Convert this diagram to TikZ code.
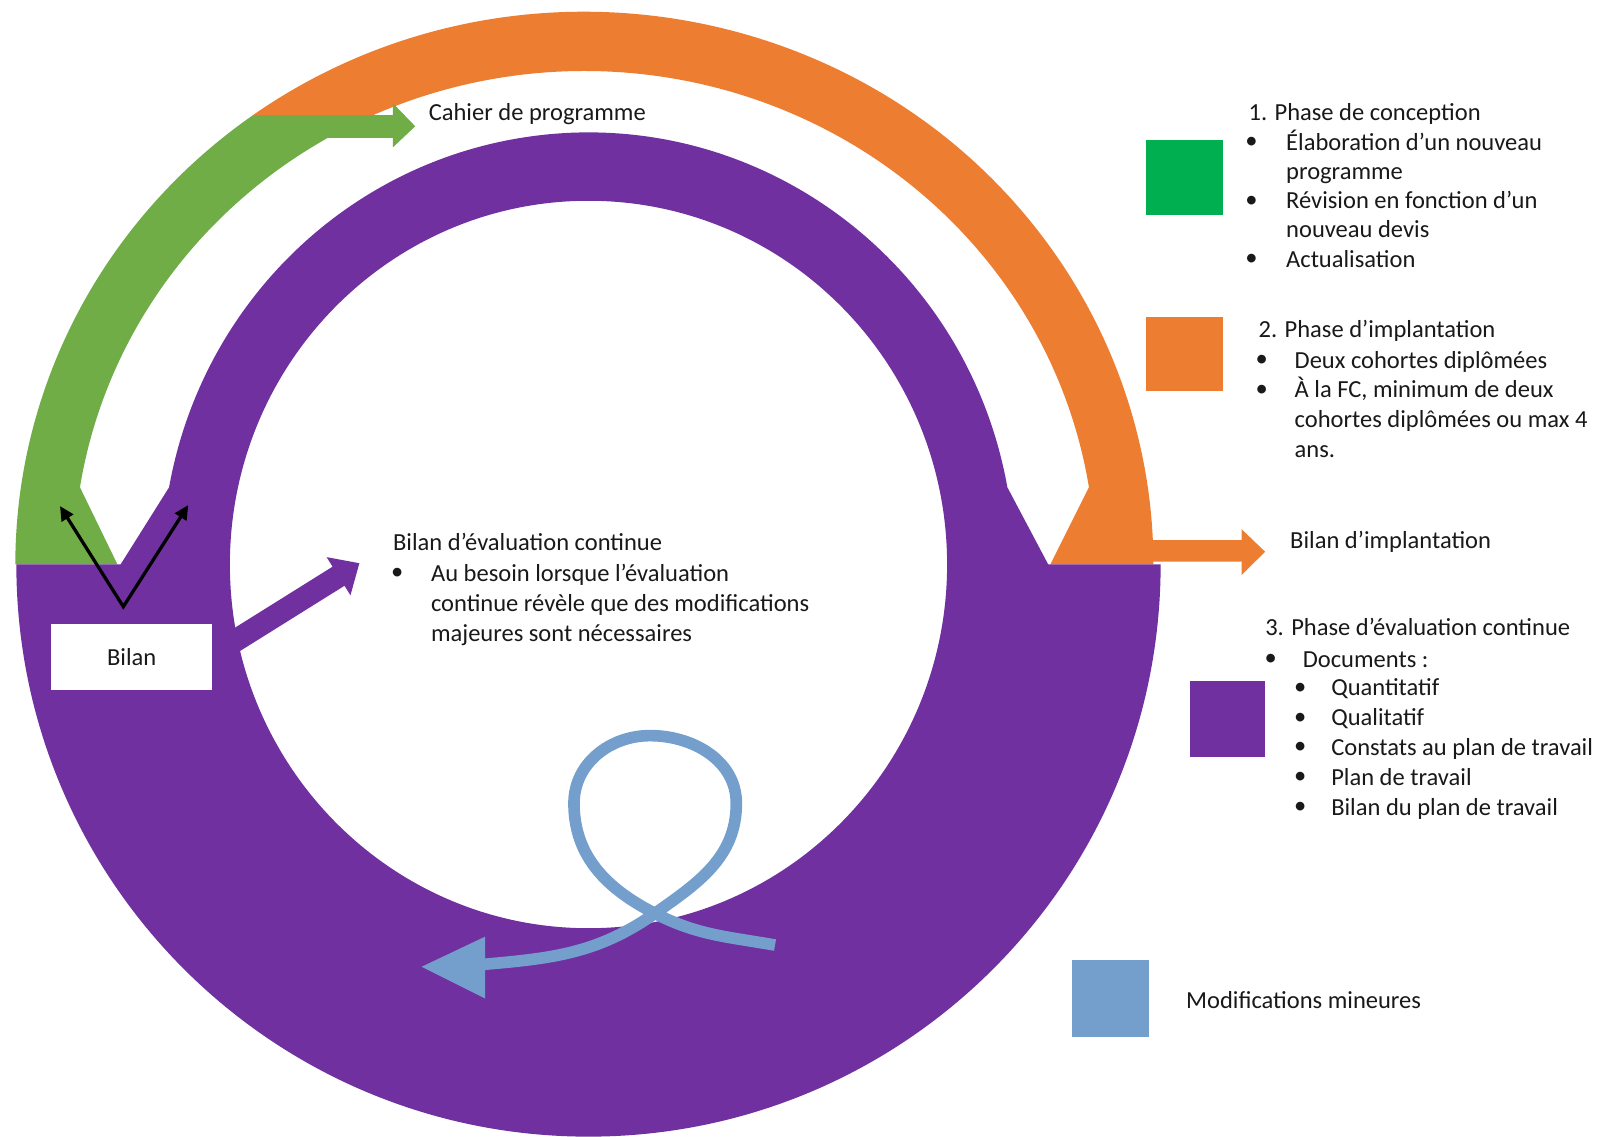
\documentclass[tikz,border=0pt]{standalone}
\usepackage{fontspec}
\setmainfont{Carlito}
\usetikzlibrary{arrows.meta}
\definecolor{cpurple}{RGB}{112,48,160}
\definecolor{corange}{RGB}{237,125,49}
\definecolor{cgreen}{RGB}{112,173,71}
\definecolor{lgreen}{RGB}{0,176,80}
\definecolor{cblue}{RGB}{116,159,204}
\definecolor{ctext}{RGB}{25,25,25}
\begin{document}
\begin{tikzpicture}[x=1pt,y=1pt,
  txt/.style={font=\fontsize{24}{29}\selectfont, text=ctext, inner sep=0pt, anchor=base west},
  bul/.style={font=\fontsize{24}{29}\selectfont, text=ctext, inner sep=0pt, anchor=center},
  legsq/.style={draw=none},
  loopline/.style={draw=cblue, line width=11.4pt},
  blackarrow/.style={draw=black, line width=3.2pt, line join=miter,
     {Triangle[length=14pt,width=13pt]}-{Triangle[length=14pt,width=13pt]}}]
\useasboundingbox (0,0) rectangle (1568,-1112);
\fill[white] (0,0) rectangle (1568,-1112);

% orange upper band
\fill[corange] (247.7,-112.6) arc[start angle=125.6, end angle=0, x radius=557, y radius=541]
  -- (1028,-552.5) -- (1065.8,-476.9)
  arc[start angle=9, end angle=114.4, x radius=500, y radius=483] -- cycle;

% green upper band with arrow
\fill[cgreen] (15,-552.5) arc[start angle=180, end angle=125.6, x radius=557, y radius=541]
  -- (384.6,-112.6) -- (384.6,-101.1) -- (406.4,-123.6) -- (384.6,-144.2) -- (384.6,-134.9)
  -- (320.9,-134.9) arc[start angle=120.16, end angle=171, x radius=500, y radius=483]
  -- (115,-552.5) -- cycle;

% purple ring
\fill[cpurple, even odd rule] (16,-552.5) arc[start angle=180, end angle=360, radius=560]
  -- (1026,-552.5) -- (986,-477)
  arc[start angle=10.3, end angle=169.7, x radius=417, y radius=423]
  -- (118,-552.5) -- cycle
  (576,-552.5) ellipse[x radius=351, y radius=356];

% purple arrow
\begin{scope}[shift={(231.3,-626.5)}, rotate=32]
\fill[cpurple] (-12,11) -- (118,11) -- (118,22) -- (142,0) -- (118,-22) -- (118,-11) -- (-12,-11) -- cycle;
\end{scope}

% orange arrow
\fill[corange] (1120,-528.6) -- (1215.3,-528.6) -- (1215.3,-518) -- (1238.2,-540)
  -- (1215.3,-562.8) -- (1215.3,-549.8) -- (1120,-549.8) -- cycle;

% Bilan box
\node[fill=white, minimum width=158pt, minimum height=64pt, inner sep=0pt,
      font=\fontsize{24}{29}\selectfont, text=ctext] (bilan) at (128.9,-642.9) {Bilan};

% black arrows
\coordinate (vtx) at (120.7,-593.8);
\coordinate (tipL) at (58.7,-495.3);
\coordinate (tipR) at (184.3,-494.3);
\draw[blackarrow] (tipL) -- (vtx) -- (tipR);

% blue loop
\coordinate (lp0) at (758.6,-925);
\coordinate (lpc) at (641,-894);
\coordinate (lpl) at (561.8,-786.3);
\coordinate (lpt) at (636.2,-720);
\coordinate (lpr) at (720.7,-786.3);
\coordinate (lpb) at (472,-944);
\draw[loopline] (lp0) to[out=170,in=-27] (lpc) to[out=153,in=-90] (lpl)
  to[out=90,in=180] (lpt) to[out=0,in=90] (lpr) to[out=-90,in=35] (lpc)
  to[out=215,in=5] (lpb);
\fill[cblue] (474.7,-916.8) -- (474.7,-977.2) -- (412.7,-946.2) -- cycle;

% legend squares
\fill[lgreen] (1122,-137) rectangle (1197,-210.5);
\fill[corange] (1122,-310) rectangle (1197,-383);
\fill[cpurple] (1165,-667) rectangle (1238,-741);
\fill[cblue] (1049,-939.6) rectangle (1124.6,-1015.3);

% texts
\node[txt] (cahier) at (419.5,-117.5) {Cahier de programme};
\node[txt] (bec) at (384.6,-538.9) {Bilan d’évaluation continue};
\node[bul] (becb) at (388.9,-561.9) {•};
\node[txt] (bec1) at (421.7,-568.9) {Au besoin lorsque l’évaluation};
\node[txt] (bec2) at (421.7,-598.2) {continue révèle que des modifications};
\node[txt] (bec3) at (421.7,-627.5) {majeures sont nécessaires};
\node[txt] (bimp) at (1262.6,-537) {Bilan d’implantation};

\node[txt] (p1) at (1221.9,-117.9) {1. Phase de conception};
\node[bul] (p1b1) at (1225,-140) {•};
\node[bul] (p1b2) at (1225,-197.2) {•};
\node[bul] (p1b3) at (1225,-254.4) {•};
\node[txt] (p1l1) at (1258.7,-147) {Élaboration d’un nouveau};
\node[txt] (p1l2) at (1258.7,-175.6) {programme};
\node[txt] (p1l3) at (1258.7,-204.2) {Révision en fonction d’un};
\node[txt] (p1l4) at (1258.7,-232.8) {nouveau devis};
\node[txt] (p1l5) at (1258.7,-261.4) {Actualisation};

\node[txt] (p2) at (1231.7,-330) {2. Phase d’implantation};
\node[bul] (p2b1) at (1235,-353.5) {•};
\node[bul] (p2b2) at (1235,-382.5) {•};
\node[txt] (p2l1) at (1267,-360.5) {Deux cohortes diplômées};
\node[txt] (p2l2) at (1267,-389.5) {À la FC, minimum de deux};
\node[txt] (p2l3) at (1267,-418.5) {cohortes diplômées ou max 4};
\node[txt] (p2l4) at (1267,-447.5) {ans.};

\node[txt] (p3) at (1238.2,-622) {3. Phase d’évaluation continue};
\node[bul] (p3b) at (1243.7,-646) {•};
\node[txt] (p3l) at (1275,-653) {Documents :};
\node[bul] (p3s1) at (1272.5,-674) {•};
\node[bul] (p3s2) at (1272.5,-703.2) {•};
\node[bul] (p3s3) at (1272.5,-732.4) {•};
\node[bul] (p3s4) at (1272.5,-761.6) {•};
\node[bul] (p3s5) at (1272.5,-790.8) {•};
\node[txt] (p3t1) at (1302.8,-681) {Quantitatif};
\node[txt] (p3t2) at (1302.8,-710.2) {Qualitatif};
\node[txt] (p3t3) at (1302.8,-739.4) {Constats au plan de travail};
\node[txt] (p3t4) at (1302.8,-768.6) {Plan de travail};
\node[txt] (p3t5) at (1302.8,-797.8) {Bilan du plan de travail};

\node[txt] (modif) at (1160.8,-987.4) {Modifications mineures};
\end{tikzpicture}
\end{document}
